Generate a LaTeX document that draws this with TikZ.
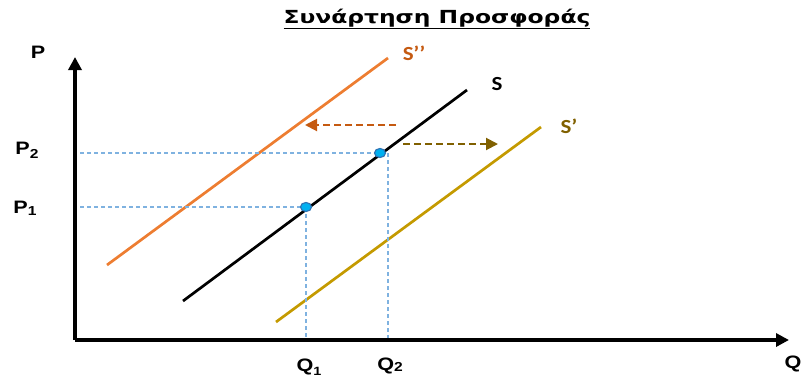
\documentclass[tikz,border=0pt]{standalone}
\usepackage{fontspec}
\setmainfont{Liberation Sans}
\newfontfamily\titlefont{DejaVu Sans}
\newfontfamily\calfont{Carlito}
\usetikzlibrary{arrows.meta,shapes.geometric}
\definecolor{sorange}{HTML}{ED7D31}
\definecolor{sorangetxt}{HTML}{C55A11}
\definecolor{sgold}{HTML}{C49A00}
\definecolor{sbrown}{HTML}{806000}
\definecolor{guide}{HTML}{7FB2E0}
\definecolor{dotfill}{HTML}{00B0F0}
\definecolor{dotdraw}{HTML}{2E75B6}
\tikzset{
  axis/.style={line width=4.2pt,-{Triangle[length=13pt,width=13pt]}},
  curve/.style={line width=2.7pt},
  guideline/.style={guide,line width=1.5pt,dash pattern=on 4pt off 3pt},
  shiftarrow/.style={line width=2pt,dash pattern=on 7pt off 4pt,-{Triangle[length=12pt,width=12pt]}},
  lbl/.style={font=\fontsize{18}{18}\selectfont\bfseries,inner sep=0pt,xscale=1.2},
  slbl/.style={font=\calfont\fontsize{20}{20}\selectfont\bfseries,inner sep=0pt,xscale=1.15},
  pt/.style={ellipse,draw=dotdraw,fill=dotfill,line width=1.2pt,minimum width=11pt,minimum height=9pt,inner sep=0pt}
}
\begin{document}
\begin{tikzpicture}[x=1pt,y=-1pt]
\useasboundingbox (0,0) rectangle (805,381);
% title
\node[inner sep=0pt,xscale=1.3,font=\titlefont\bfseries\fontsize{18}{18}\selectfont] (title) at (437,19) {\underline{Συνάρτηση Προσφοράς}};
% axes
\coordinate (O) at (75,340);
\coordinate (ytop) at (75,57);
\coordinate (xend) at (789,340);
\draw[axis] (O) -- (ytop);
\draw[axis] (O) -- (xend);
% supply curves
\coordinate (s1) at (183,301);
\coordinate (s2) at (467,90);
\coordinate (a1) at (107,265);
\coordinate (a2) at (388,58);
\coordinate (b1) at (276,322);
\coordinate (b2) at (541,127);
\draw[curve,sorange] (a1) -- (a2);
\draw[curve,black] (s1) -- (s2);
\draw[curve,sgold] (b1) -- (b2);
% points and guides
\coordinate (p1) at (306,207);
\coordinate (p2) at (380,153);
\coordinate (gy1) at (80,207);
\coordinate (gy2) at (80,153);
\coordinate (gx1) at (306,338);
\coordinate (gx2) at (388,338);
\coordinate (p2v) at (388,153);
\draw[guideline] (gy1) -- (p1);
\draw[guideline] (p1) -- (gx1);
\draw[guideline] (gy2) -- (p2);
\draw[guideline] (p2v) -- (gx2);
\node[pt] (n1) at (p1) {};
\node[pt] (n2) at (p2) {};
% shift arrows
\coordinate (l1) at (396,125);
\coordinate (l2) at (305,125);
\coordinate (r1) at (403,144);
\coordinate (r2) at (498,144);
\draw[shiftarrow,sorangetxt] (l1) -- (l2);
\draw[shiftarrow,sbrown] (r1) -- (r2);
% labels
\node[lbl] (P) at (38,52) {P};
\node[lbl] (P2) at (27,150) {P\raisebox{-0.45ex}{\fontsize{13}{13}\selectfont 2}};
\node[lbl] (P1) at (25,208) {P\raisebox{-0.25ex}{\fontsize{13}{13}\selectfont 1}};
\node[lbl] (Q1) at (309,367) {Q\raisebox{-0.45ex}{\fontsize{12}{12}\selectfont 1}};
\node[lbl] (Q2) at (390,366) {Q\raisebox{-0.15ex}{\fontsize{13}{13}\selectfont 2}};
\node[lbl] (Q) at (793,364) {Q};
\node[slbl] (S) at (497,84) {S};
\node[slbl,sorangetxt] (S2) at (414,53) {S’’};
\node[slbl,sbrown] (S1) at (569,126) {S’};
\end{tikzpicture}
\end{document}
